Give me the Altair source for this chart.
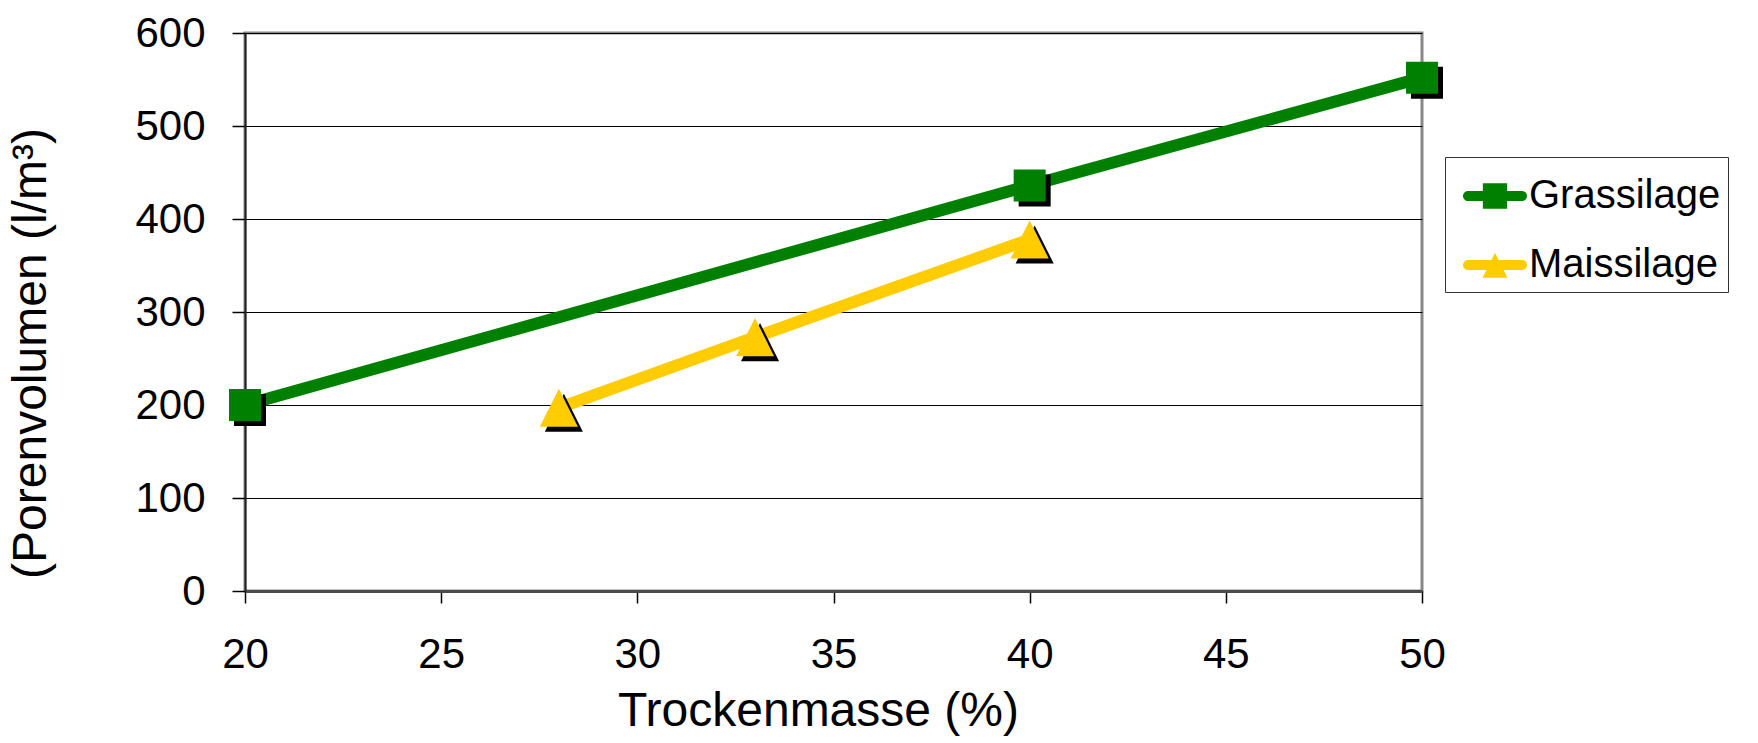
import altair as alt
import pandas as pd

# Trockenmasse (%) and Porenvolumen (l/m³) per silage type
grass_tm = [20, 40, 50]
grass_pv = [200, 436, 552]
mais_tm = [28, 33, 40]
mais_pv = [197, 273, 378]

series_names = ["Grassilage", "Maissilage"]
series_colors = ["#008000", "#FFCC00"]

x_ticks = [20, 25, 30, 35, 40, 45, 50]
y_ticks = [0, 100, 200, 300, 400, 500, 600]

FONT = "Liberation Sans"

df = pd.DataFrame({
    "tm": grass_tm + mais_tm,
    "pv": grass_pv + mais_pv,
    "serie": [series_names[0]] * len(grass_tm) + [series_names[1]] * len(mais_tm),
})
df["eintrag"] = df["serie"]

# marker shapes: square and a tall triangle
TRI = "M0,-1.19L1.19,1.19L-1.19,1.19Z"
marker_shapes = ["square", TRI]

# legend glyphs: rounded line segment with the marker on top
LINE = "M-0.84,-0.16L0.84,-0.16A0.16,0.16,0,0,1,0.84,0.16L-0.84,0.16A0.16,0.16,0,0,1,-0.84,-0.16Z"
legend_shapes = [
    LINE + "M-0.38,-0.4L0.38,-0.4L0.38,0.4L-0.38,0.4Z",
    LINE + "M0,-0.38L0.39,0.4L-0.39,0.4Z",
]

color_scale = alt.Scale(domain=series_names, range=series_colors)

x_enc = alt.X(
    "tm:Q",
    scale=alt.Scale(domain=[20, 50], nice=False, zero=False),
    axis=alt.Axis(
        values=x_ticks,
        title="Trockenmasse (%)",
        grid=False,
        domainColor="#4a4a4a",
        domainWidth=3,
        tickColor="#000000",
        tickWidth=1.5,
        tickSize=12,
        labelFont=FONT,
        labelFontSize=42,
        labelColor="#000000",
        labelPadding=64,
        labelBaseline="alphabetic",
        labelFlush=False,
        titleFont=FONT,
        titleFontSize=48,
        titleFontWeight="normal",
        titleColor="#000000",
        titleX=573,
        titleY=134,
        titleBaseline="alphabetic",
    ),
)

y_enc = alt.Y(
    "pv:Q",
    scale=alt.Scale(domain=[0, 600], nice=False),
    axis=alt.Axis(
        values=y_ticks,
        title="(Porenvolumen (l/m³)",
        grid=True,
        gridColor="#000000",
        gridWidth=1.2,
        domainColor="#222222",
        domainWidth=2,
        tickColor="#000000",
        tickWidth=1.5,
        tickSize=13,
        labelFont=FONT,
        labelFontSize=42,
        labelColor="#000000",
        labelPadding=27,
        titleFont=FONT,
        titleFontSize=48,
        titleFontWeight="normal",
        titleColor="#000000",
        titleX=-200,
        titleY=320,
        titleBaseline="alphabetic",
    ),
)

base = alt.Chart(df)

lines = base.mark_line(strokeWidth=12, strokeCap="round", strokeJoin="round").encode(
    x=x_enc,
    y=y_enc,
    stroke=alt.Stroke("serie:N", scale=color_scale, legend=None),
    detail="serie:N",
)

# one marker layer (shadow + marker) per series
marker_layers = []
for name, shape, col in zip(series_names, marker_shapes, series_colors):
    sub = base.transform_filter(alt.datum.serie == name)
    marker_layers.append(
        sub.mark_point(filled=True, color="#000000", opacity=1, size=1024, shape=shape,
                       strokeWidth=0, xOffset=5, yOffset=5).encode(x="tm:Q", y="pv:Q")
    )
    marker_layers.append(
        sub.mark_point(filled=True, color=col, opacity=1, size=1024, shape=shape,
                       strokeWidth=0).encode(x="tm:Q", y="pv:Q")
    )

legend_def = dict(
    title=None,
    orient="none",
    legendX=1200,
    legendY=124,
    labelFont=FONT,
    labelFontSize=40,
    labelColor="#000000",
    labelOffset=2,
    labelLimit=400,
    symbolSize=4096,
    symbolOffset=11,
    symbolOpacity=1,
    symbolStrokeWidth=0,
    strokeColor="#333333",
    padding=7,
    rowPadding=17,
)

# invisible points that only carry the legend
legend_layer = base.mark_point(filled=True, opacity=0, size=10).encode(
    x="tm:Q",
    y="pv:Q",
    color=alt.Color("eintrag:N", scale=alt.Scale(range=series_colors), legend=alt.Legend(**legend_def)),
    shape=alt.Shape("eintrag:N", scale=alt.Scale(range=legend_shapes), legend=alt.Legend(**legend_def)),
)

chart = (
    alt.layer(lines, *marker_layers, legend_layer)
    .properties(
        width=1177,
        height=558,
        padding={"left": 245, "top": 33, "right": 336, "bottom": 152},
        autosize=alt.AutoSizeParams(type="none"),
        background="#ffffff",
    )
    .configure_view(stroke="#888888", strokeWidth=3)
)

chart.save("out.html", embed_options={"renderer": "svg", "actions": False})
